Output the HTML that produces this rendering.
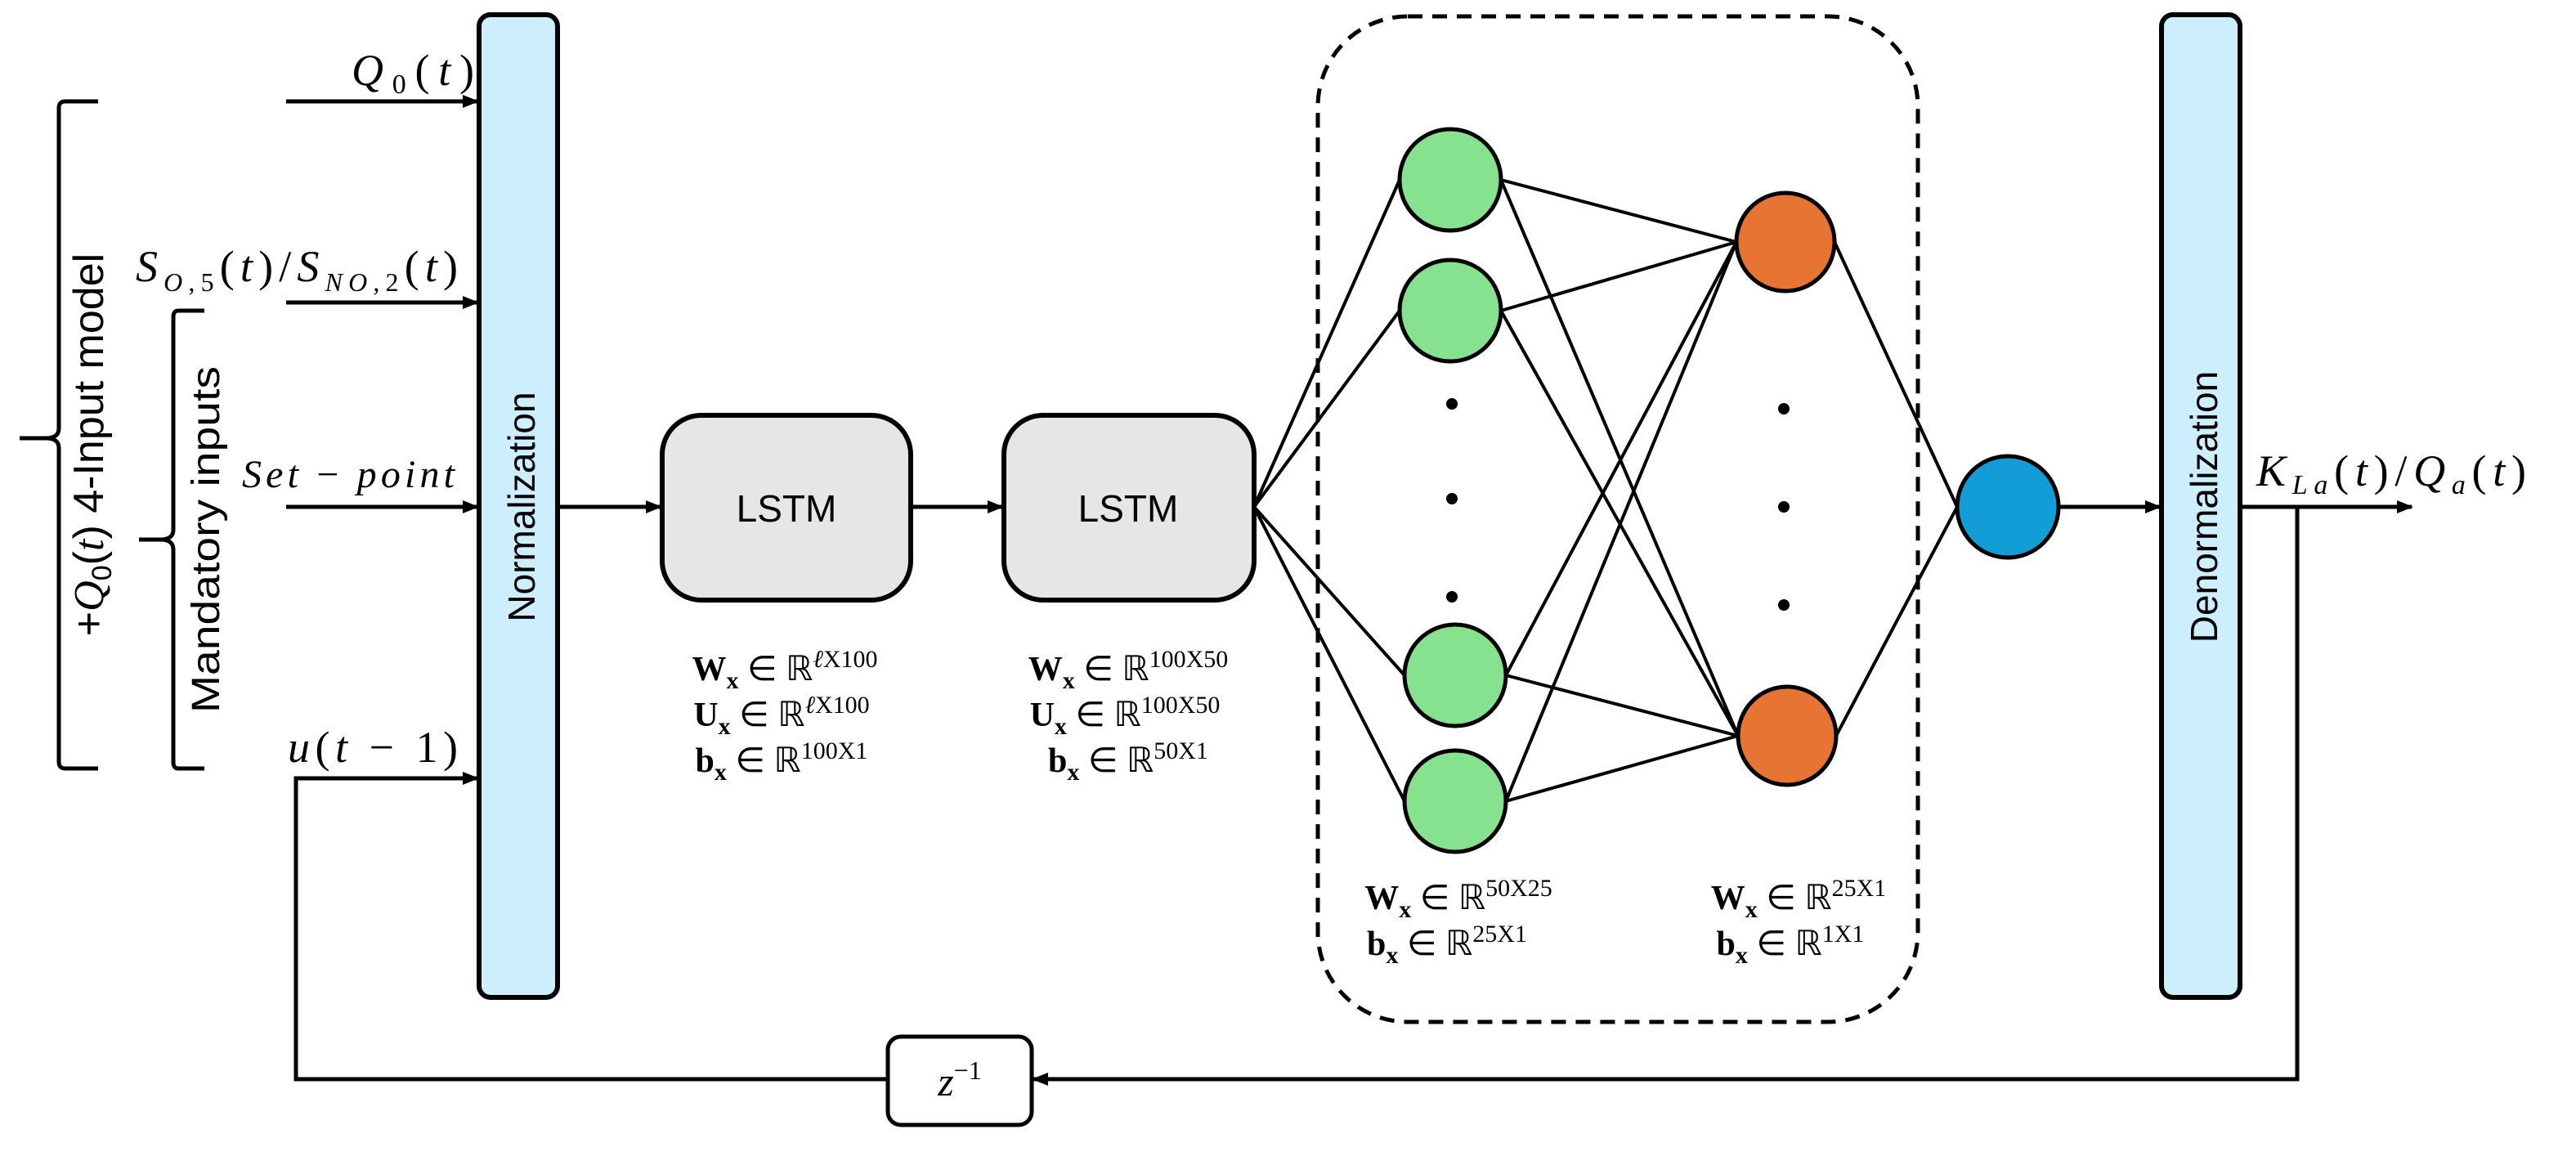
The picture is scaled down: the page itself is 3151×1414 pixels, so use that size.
<!DOCTYPE html>
<html><head><meta charset="utf-8"><style>
html,body{margin:0;padding:0;background:#fff;}
svg{display:block;}
.m{font-family:"Liberation Serif",serif;font-style:italic;}
.s{font-family:"Liberation Sans",sans-serif;}
.w{font-family:"Liberation Serif",serif;font-size:21px;}
</style></head><body>
<svg width="3151" height="1414" viewBox="0 0 1575.5 707" xmlns="http://www.w3.org/2000/svg">
<defs><marker id="a" markerWidth="10" markerHeight="8" refX="9" refY="4" orient="auto" markerUnits="userSpaceOnUse"><path d="M0,0 L10,4 L0,8 Z" fill="#000"/></marker></defs>
<g fill="none" stroke="#000" stroke-width="2.5">
<path d="M60,62 L40,62 Q36,62 36,66 L36,262 Q36,268 28,268 L12,268 M28,268 Q36,268 36,274 L36,466 Q36,470 40,470 L60,470"/>
<path d="M125,190 L109,190 Q106,190 106,194 L106,324 Q106,330 98,330 L85,330 M98,330 Q106,330 106,336 L106,466 Q106,470 109,470 L125,470"/>
<line x1="175" y1="62" x2="292" y2="62" marker-end="url(#a)"/>
<line x1="175" y1="185" x2="292" y2="185" marker-end="url(#a)"/>
<line x1="175" y1="310" x2="292" y2="310" marker-end="url(#a)"/>
<polyline points="543,660 181,660 181,476 292,476" marker-end="url(#a)"/>
<line x1="342" y1="310" x2="404" y2="310" marker-end="url(#a)"/>
<line x1="558" y1="310" x2="613" y2="310" marker-end="url(#a)"/>
<g stroke-width="2">
<line x1="767" y1="310" x2="856" y2="110"/><line x1="767" y1="310" x2="856" y2="190"/>
<line x1="767" y1="310" x2="859" y2="413"/><line x1="767" y1="310" x2="859" y2="490"/>
<line x1="918" y1="110" x2="1062" y2="148"/><line x1="918" y1="110" x2="1063" y2="450"/>
<line x1="918" y1="190" x2="1062" y2="148"/><line x1="918" y1="190" x2="1063" y2="450"/>
<line x1="921" y1="413" x2="1062" y2="148"/><line x1="921" y1="413" x2="1063" y2="450"/>
<line x1="921" y1="490" x2="1062" y2="148"/><line x1="921" y1="490" x2="1063" y2="450"/>
<line x1="1122" y1="148" x2="1197" y2="310"/><line x1="1123" y1="450" x2="1197" y2="310"/>
</g>
<line x1="1259" y1="310" x2="1321" y2="310" marker-end="url(#a)"/>
<line x1="1371" y1="310" x2="1475" y2="310" marker-end="url(#a)"/>
<polyline points="1405,310 1405,660 632,660" marker-end="url(#a)"/>
<rect x="806" y="10" width="367" height="615" rx="55" stroke-dasharray="9,6"/>
</g>
<rect x="293" y="9" width="48" height="601" rx="7" fill="#cdeefc" stroke="#000" stroke-width="3"/>
<rect x="1322" y="9" width="48" height="601" rx="7" fill="#cdeefc" stroke="#000" stroke-width="3"/>
<rect x="405" y="254" width="152" height="113" rx="24" fill="#e6e6e6" stroke="#000" stroke-width="3"/>
<rect x="614" y="254" width="153" height="113" rx="24" fill="#e6e6e6" stroke="#000" stroke-width="3"/>
<rect x="543" y="634" width="88" height="54" rx="8" fill="#fff" stroke="#000" stroke-width="2.5"/>
<g stroke="#000" stroke-width="2.5">
<circle cx="887" cy="110" r="31" fill="#86e28e"/><circle cx="887" cy="190" r="31" fill="#86e28e"/>
<circle cx="890" cy="413" r="31" fill="#86e28e"/><circle cx="890" cy="490" r="31" fill="#86e28e"/>
<circle cx="1092" cy="148" r="30" fill="#e87434"/><circle cx="1093" cy="450" r="30" fill="#e87434"/>
<circle cx="1228" cy="310" r="31" fill="#129dd6"/>
</g>
<g fill="#000"><circle cx="888" cy="247" r="3.5"/><circle cx="888" cy="305" r="3.5"/><circle cx="888" cy="365" r="3.5"/>
<circle cx="1091" cy="250" r="3.5"/><circle cx="1091" cy="310" r="3.5"/><circle cx="1091" cy="370" r="3.5"/></g>
<text class="s" x="481" y="319" font-size="23" text-anchor="middle">LSTM</text>
<text class="s" x="690" y="319" font-size="23" text-anchor="middle">LSTM</text>
<text class="s" transform="translate(327,310) rotate(-90)" font-size="23" text-anchor="middle">Normalization</text>
<text class="s" transform="translate(1356,310) rotate(-90)" font-size="23" text-anchor="middle">Denormalization</text>
<text class="s" transform="translate(134,330) rotate(-90)" font-size="24" text-anchor="middle" textLength="212" lengthAdjust="spacingAndGlyphs">Mandatory inputs</text>
<text class="s" transform="translate(63,272) rotate(-90)" font-size="26" text-anchor="middle">+<tspan class="m">Q</tspan><tspan font-size="17" dy="5">0</tspan><tspan dy="-5">(</tspan><tspan class="m">t</tspan>) 4-Input model</text>
<text class="m" x="215" y="52" font-size="27" textLength="75">Q<tspan font-size="17" dy="5" font-style="normal">0</tspan><tspan dy="-5" font-style="normal">(</tspan>t<tspan font-style="normal">)</tspan></text>
<text class="m" x="83" y="172" font-size="27" textLength="197">S<tspan font-size="16" dy="6">O</tspan><tspan font-size="16" font-style="normal">,5</tspan><tspan dy="-6" font-style="normal">(</tspan>t<tspan font-style="normal">)/</tspan>S<tspan font-size="16" dy="6">NO</tspan><tspan font-size="16" font-style="normal">,2</tspan><tspan dy="-6" font-style="normal">(</tspan>t<tspan font-style="normal">)</tspan></text>
<text class="m" x="148" y="298" font-size="24" textLength="130">Set <tspan font-style="normal">−</tspan> point</text>
<text class="m" x="176" y="466" font-size="27" textLength="104">u<tspan font-style="normal">(</tspan>t <tspan font-style="normal">− 1)</tspan></text>
<text class="m" x="1380" y="297" font-size="27" textLength="165">K<tspan font-size="17" dy="5">La</tspan><tspan dy="-5" font-style="normal">(</tspan>t<tspan font-style="normal">)/</tspan>Q<tspan font-size="17" dy="5">a</tspan><tspan dy="-5" font-style="normal">(</tspan>t<tspan font-style="normal">)</tspan></text>
<text class="m" x="587" y="670" font-size="25" text-anchor="middle">z<tspan font-size="16" dy="-10" font-style="normal">−1</tspan></text>
<g class="w">
<text x="480" y="416" text-anchor="middle"><tspan font-weight="bold">W</tspan><tspan font-weight="bold" font-size="15" dy="5">x</tspan><tspan dy="-5"> ∈ ℝ</tspan><tspan font-size="15" dy="-8"><tspan font-style="italic">ℓ</tspan>X100</tspan></text>
<text x="478" y="444" text-anchor="middle"><tspan font-weight="bold">U</tspan><tspan font-weight="bold" font-size="15" dy="5">x</tspan><tspan dy="-5"> ∈ ℝ</tspan><tspan font-size="15" dy="-8"><tspan font-style="italic">ℓ</tspan>X100</tspan></text>
<text x="478" y="472" text-anchor="middle"><tspan font-weight="bold">b</tspan><tspan font-weight="bold" font-size="15" dy="5">x</tspan><tspan dy="-5"> ∈ ℝ</tspan><tspan font-size="15" dy="-8">100X1</tspan></text>
<text x="690" y="416" text-anchor="middle"><tspan font-weight="bold">W</tspan><tspan font-weight="bold" font-size="15" dy="5">x</tspan><tspan dy="-5"> ∈ ℝ</tspan><tspan font-size="15" dy="-8">100X50</tspan></text>
<text x="688" y="444" text-anchor="middle"><tspan font-weight="bold">U</tspan><tspan font-weight="bold" font-size="15" dy="5">x</tspan><tspan dy="-5"> ∈ ℝ</tspan><tspan font-size="15" dy="-8">100X50</tspan></text>
<text x="690" y="472" text-anchor="middle"><tspan font-weight="bold">b</tspan><tspan font-weight="bold" font-size="15" dy="5">x</tspan><tspan dy="-5"> ∈ ℝ</tspan><tspan font-size="15" dy="-8">50X1</tspan></text>
<text x="892" y="556" text-anchor="middle"><tspan font-weight="bold">W</tspan><tspan font-weight="bold" font-size="15" dy="5">x</tspan><tspan dy="-5"> ∈ ℝ</tspan><tspan font-size="15" dy="-8">50X25</tspan></text>
<text x="885" y="584" text-anchor="middle"><tspan font-weight="bold">b</tspan><tspan font-weight="bold" font-size="15" dy="5">x</tspan><tspan dy="-5"> ∈ ℝ</tspan><tspan font-size="15" dy="-8">25X1</tspan></text>
<text x="1100" y="556" text-anchor="middle"><tspan font-weight="bold">W</tspan><tspan font-weight="bold" font-size="15" dy="5">x</tspan><tspan dy="-5"> ∈ ℝ</tspan><tspan font-size="15" dy="-8">25X1</tspan></text>
<text x="1095" y="584" text-anchor="middle"><tspan font-weight="bold">b</tspan><tspan font-weight="bold" font-size="15" dy="5">x</tspan><tspan dy="-5"> ∈ ℝ</tspan><tspan font-size="15" dy="-8">1X1</tspan></text>
</g>
</svg>
</body></html>
